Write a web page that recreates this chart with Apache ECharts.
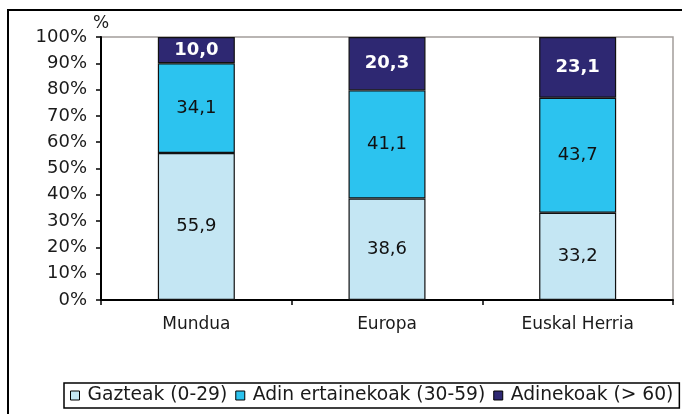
<!DOCTYPE html>
<html>
<head>
<meta charset="utf-8">
<script src="https://cdn.jsdelivr.net/npm/echarts@6/dist/echarts.min.js"></script>
<style>
  html, body { margin: 0; padding: 0; background: #fff; }
  #chart { width: 682px; height: 414px; }
</style>
</head>
<body>
<div id="chart"></div>
<script>
const categories = ['Mundua', 'Europa', 'Euskal Herria']
const seriesNames = ['Gazteak (0-29)', 'Adin ertainekoak (30-59)', 'Adinekoak (> 60)']
const young = [55.9, 38.6, 33.2]
const middle = [34.1, 41.1, 43.7]
const old = [10.0, 20.3, 23.1]
const yTicks = [0, 10, 20, 30, 40, 50, 60, 70, 80, 90, 100]

const font = 'DejaVu Sans, Verdana, sans-serif'
const colors = ['#c4e6f3', '#2cc3ef', '#2e2872']

const fmt = p => p.value.toFixed(1).replace('.', ',')

function makeSeries(name, data, color, labelColor, bold) {
  return {
    name,
    type: 'bar',
    stack: 'total',
    data,
    barWidth: 77,
    itemStyle: { color, borderColor: '#111', borderWidth: 1.2 },
    label: {
      show: true,
      position: 'inside',
      formatter: fmt,
      color: labelColor,
      fontFamily: font,
      fontSize: 18,
      fontWeight: bold ? 'bold' : 'normal'
    }
  }
}

const chart = echarts.init(document.getElementById('chart'))
chart.setOption({
  animation: false,
  backgroundColor: '#fff',
  graphic: [
    {
      type: 'rect',
      shape: { x: 8, y: 10, width: 700, height: 430 },
      style: { fill: 'none', stroke: '#000', lineWidth: 2 }
    },
    {
      type: 'text',
      left: 93,
      top: 15,
      style: { text: '%', fontFamily: font, fontSize: 17, fill: '#1a1a1a' }
    }
  ],
  grid: {
    left: 101, right: 9, top: 37, bottom: 114,
    show: true, borderColor: '#a39d9a', borderWidth: 1.5, backgroundColor: '#fff'
  },
  legend: {
    left: 64,
    top: 383,
    data: seriesNames,
    icon: 'rect',
    itemWidth: 9,
    itemHeight: 9,
    itemGap: 8,
    padding: [3, 6],
    borderColor: '#000',
    borderWidth: 1.5,
    backgroundColor: '#fff',
    itemStyle: { borderColor: '#000', borderWidth: 1 },
    textStyle: { fontFamily: font, fontSize: 18.7, color: '#1a1a1a', padding: [0, 0, 0, 3] }
  },
  xAxis: {
    type: 'category',
    data: categories,
    axisLine: { lineStyle: { color: '#000', width: 2 } },
    axisTick: { show: true, length: 5, lineStyle: { color: '#000', width: 1.5 } },
    axisLabel: { fontFamily: font, fontSize: 17, color: '#1a1a1a', margin: 16 }
  },
  yAxis: {
    type: 'value',
    min: 0,
    max: 100,
    interval: 10,
    axisLine: { show: true, lineStyle: { color: '#000', width: 2 } },
    axisTick: { show: true, length: 5, lineStyle: { color: '#000', width: 1.5 } },
    splitLine: { show: false },
    axisLabel: {
      fontFamily: font, fontSize: 18, color: '#1a1a1a', margin: 14,
      formatter: v => yTicks.includes(v) ? v + '%' : ''
    }
  },
  series: [
    makeSeries(seriesNames[0], young, colors[0], '#111', false),
    makeSeries(seriesNames[1], middle, colors[1], '#111', false),
    makeSeries(seriesNames[2], old, colors[2], '#fff', true)
  ]
})
</script>
</body>
</html>
